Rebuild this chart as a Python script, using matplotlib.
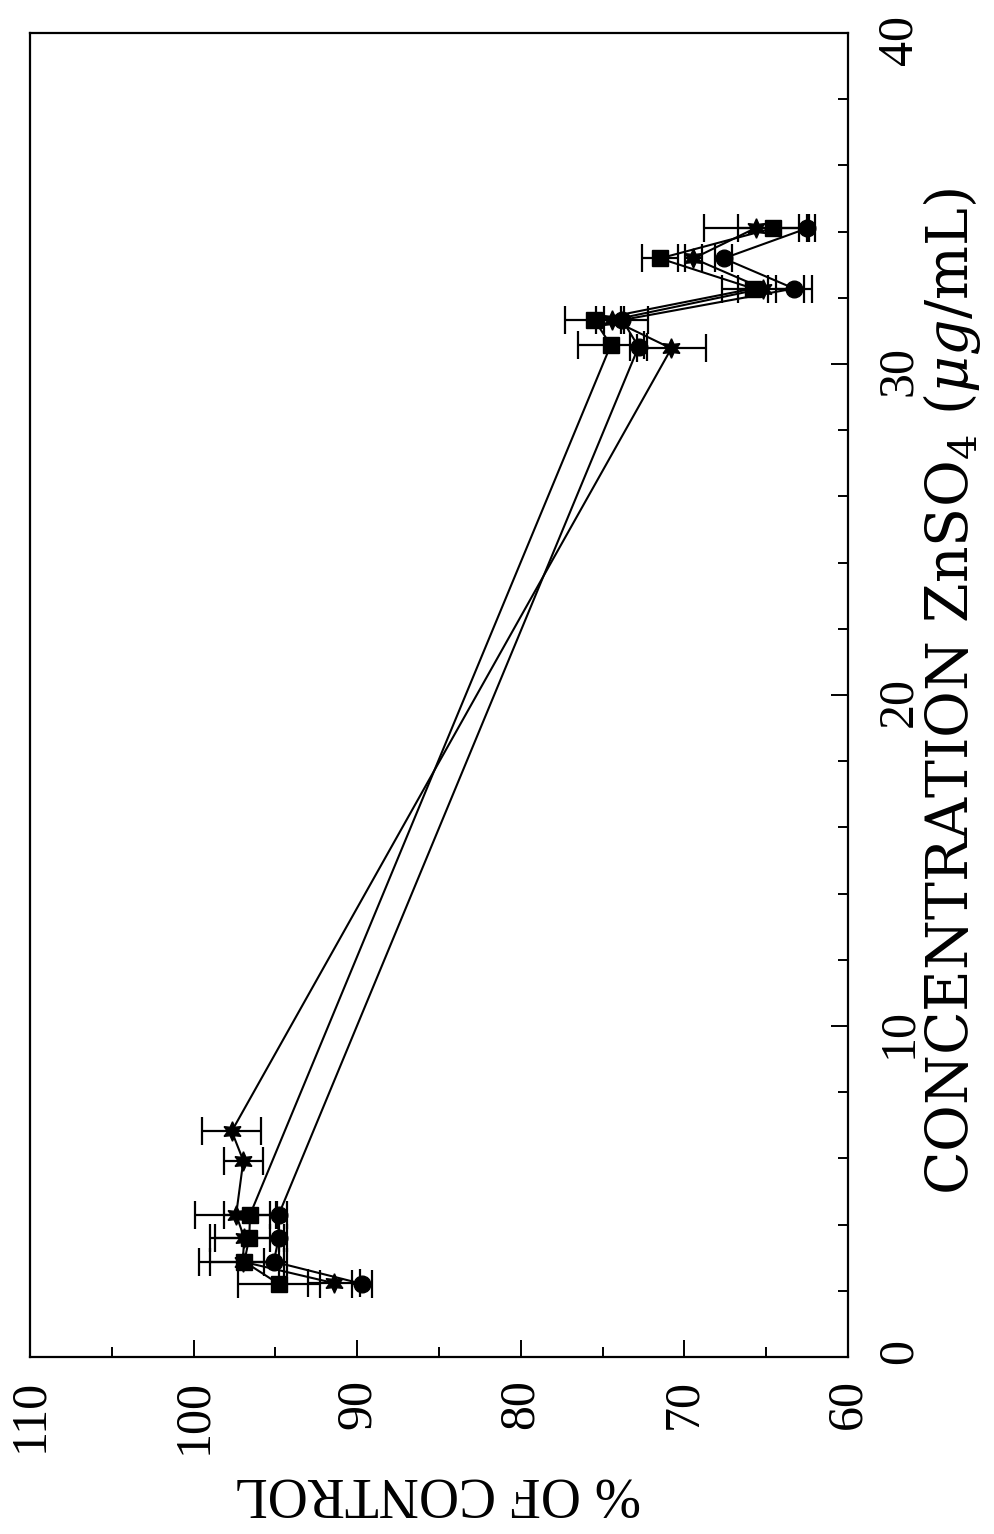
import matplotlib
matplotlib.use("Agg")
import matplotlib.pyplot as plt
from matplotlib.ticker import MultipleLocator

plt.rcParams['font.family'] = ['Liberation Serif', 'DejaVu Serif']
plt.rcParams['mathtext.fontset'] = 'custom'
plt.rcParams['mathtext.rm'] = 'DejaVu Serif'
plt.rcParams['mathtext.it'] = 'DejaVu Serif:italic'

# concentration (ug/mL), % of control, error (+/-)
circle_conc = [2.21, 2.88, 3.59, 4.30, 30.52, 31.33, 32.28, 33.19, 34.10]
circle_pct = [89.7, 95.1, 94.8, 94.8, 72.8, 73.8, 63.3, 67.6, 62.5]
circle_err = [0.6, 0.6, 0.5, 0.5, 0.5, 1.6, 1.1, 0.5, 0.5]

square_conc = [2.21, 2.88, 3.59, 4.30, 30.57, 31.33, 32.28, 33.19, 34.10]
square_pct = [94.8, 96.9, 96.6, 96.55, 74.5, 75.5, 65.8, 71.5, 64.6]
square_err = [2.5, 2.1, 2.1, 1.6, 2.0, 1.8, 0.9, 1.1, 2.1]

star_conc = [2.23, 2.88, 3.59, 4.30, 5.93, 6.82, 30.47, 31.33, 32.28, 33.19, 34.12]
star_pct = [91.4, 97.0, 96.9, 97.4, 96.96, 97.67, 70.8, 74.4, 65.2, 69.45, 65.6]
star_err = [1.6, 2.7, 2.1, 2.5, 1.2, 1.8, 2.1, 0.5, 2.5, 0.5, 3.2]

pct_ticks = [110, 100, 90, 80, 70, 60]
conc_ticks = [0, 10, 20, 30, 40]

fig = plt.figure(figsize=(9.95, 15.34), dpi=100)
ax = fig.add_axes([30 / 995, 1 - 1357 / 1534, 818 / 995, 1324 / 1534])

common = dict(color='black', lw=1.5, elinewidth=1.6, capsize=10, capthick=1.6)
ax.errorbar(circle_pct, circle_conc, xerr=circle_err, marker='o', ms=12, **common)
ax.errorbar(square_pct, square_conc, xerr=square_err, marker='s', ms=11, **common)
ax.errorbar(star_pct, star_conc, xerr=star_err, marker=(6, 1, 0), ms=14, **common)

ax.set_xlim(110, 60)
ax.set_ylim(0, 40)
ax.set_xticks(pct_ticks)
ax.set_yticks(conc_ticks)
ax.xaxis.set_minor_locator(MultipleLocator(5))
ax.yaxis.set_minor_locator(MultipleLocator(2))

for s in ax.spines.values():
    s.set_linewidth(1.6)

ax.tick_params(axis='x', which='both', direction='in', bottom=True, top=False,
               labelrotation=90, labelsize=36, pad=16, width=1.4)
ax.tick_params(axis='y', which='both', direction='in', left=False, right=True,
               labelleft=False, labelright=True, labelrotation=90, labelsize=36,
               pad=20, width=1.4)
ax.tick_params(which='major', length=12)
ax.tick_params(which='minor', length=7)

fig.text(921 / 995, 1 - 692 / 1534, 'CONCENTRATION ZnSO$_4$ ($\\mu g$/mL)',
         rotation=90, ha='left', va='center', fontsize=41, family='DejaVu Serif')
fig.text(437 / 995, 1 - 1492 / 1534, '% OF CONTROL',
         rotation=180, ha='center', va='center', fontsize=40)

plt.savefig('out.png', dpi=100)
